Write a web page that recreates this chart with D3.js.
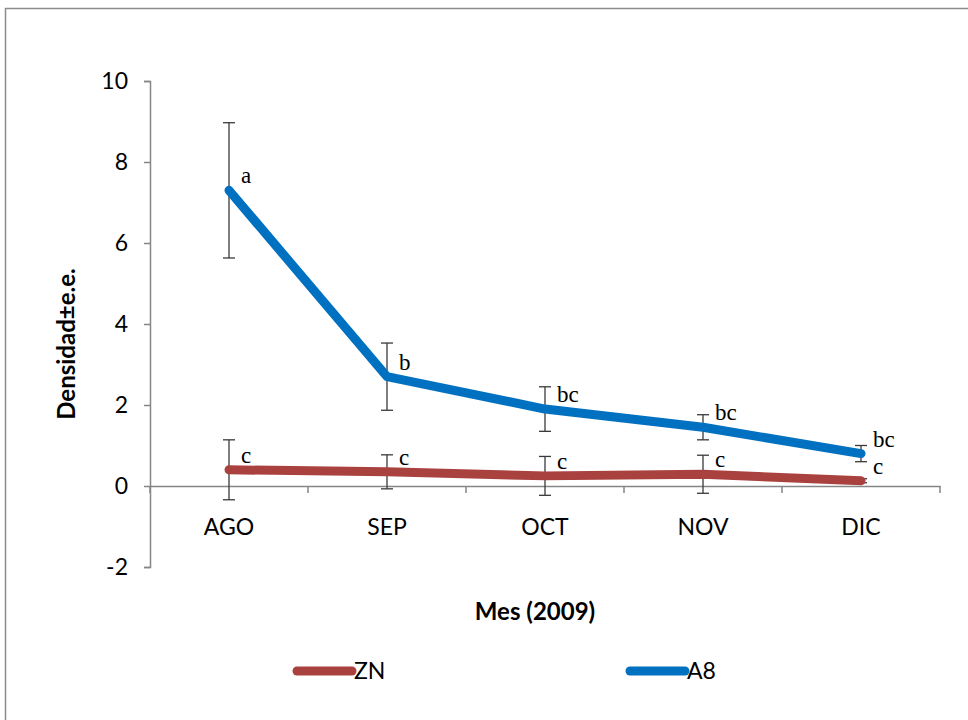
<!DOCTYPE html>
<html>
<head>
<meta charset="utf-8">
<script src="https://cdn.jsdelivr.net/npm/d3@7"></script>
<style>
  body { margin: 0; background: #fff; }
  svg { display: block; }
  .tick text { font-family: Lato, "Open Sans", sans-serif; }
</style>
</head>
<body>
<script>
// months and series
var months = ["AGO", "SEP", "OCT", "NOV", "DIC"];
var seriesNames = ["ZN", "A8"];
var znValues = [0.40, 0.35, 0.25, 0.29, 0.13];
var znErrors = [0.74, 0.42, 0.48, 0.47, 0.05];
var znLetters = ["c", "c", "c", "c", "c"];
var a8Values = [7.30, 2.70, 1.90, 1.45, 0.80];
var a8Errors = [1.67, 0.83, 0.55, 0.31, 0.20];
var a8Letters = ["a", "b", "bc", "bc", "bc"];
var yTicks = [-2, 0, 2, 4, 6, 8, 10];

var width = 968,
    height = 720;

var colors = {ZN: "#A9423F", A8: "#0070C0"};

var svg = d3.select("body").append("svg")
  .attr("width", width)
  .attr("height", height);

// chart frame
svg.append("rect")
  .attr("x", 5.5)
  .attr("y", 8.5)
  .attr("width", 980)
  .attr("height", 730)
  .attr("fill", "none")
  .attr("stroke", "#8c8c8c")
  .attr("stroke-width", 1.5);

var x = d3.scaleBand()
  .domain(months)
  .range([150, 940])
  .padding(0);

var y = d3.scaleLinear()
  .domain([-2, 10])
  .range([567, 81]);

// y axis
var yAxis = svg.append("g")
  .attr("transform", "translate(150,0)")
  .call(d3.axisLeft(y).tickValues(yTicks).tickSize(6).tickPadding(16).tickFormat(function(d) { return String(d); }));
yAxis.select(".domain").attr("stroke", "#868686").attr("stroke-width", 1.5);
yAxis.selectAll(".tick line").attr("stroke", "#868686").attr("stroke-width", 1.5);
yAxis.selectAll(".tick text").attr("font-size", 23).attr("fill", "#000");

// x axis at zero, ticks on category boundaries
var xAxis = svg.append("g")
  .attr("transform", "translate(0," + y(0) + ")")
  .call(d3.axisBottom(x).tickSize(0).tickPadding(33));
xAxis.select(".domain").attr("stroke", "#868686").attr("stroke-width", 1.5);
xAxis.selectAll(".tick text").attr("font-size", 23).attr("fill", "#000");

var bounds = months.map(function(m) { return x(m); }).concat([x.range()[1]]);
xAxis.selectAll(".bound")
  .data(bounds)
  .enter()
.append("line")
  .attr("class", "bound")
  .attr("x1", function(d) { return d; })
  .attr("x2", function(d) { return d; })
  .attr("y1", 0)
  .attr("y2", 7)
  .attr("stroke", "#868686")
  .attr("stroke-width", 1.5);

// axis titles
svg.append("text")
  .attr("transform", "translate(75,344) rotate(-90)")
  .attr("text-anchor", "middle")
  .attr("font-family", "Lato, 'Open Sans', sans-serif")
  .attr("font-weight", "bold")
  .attr("font-size", 24)
  .text("Densidad±e.e.");

svg.append("text")
  .attr("x", 535)
  .attr("y", 620)
  .attr("text-anchor", "middle")
  .attr("font-family", "Lato, 'Open Sans', sans-serif")
  .attr("font-weight", "bold")
  .attr("font-size", 24)
  .text("Mes (2009)");

var series = [
  {name: "ZN", values: znValues, errors: znErrors, letters: znLetters},
  {name: "A8", values: a8Values, errors: a8Errors, letters: a8Letters}
];

var cx = function(i) { return x(months[i]) + x.bandwidth() / 2; };

var line = d3.line()
  .x(function(d, i) { return cx(i); })
  .y(function(d) { return y(d); });

series.forEach(function(s) {
  var g = svg.append("g");

  // error bars
  var eb = g.selectAll(".err")
    .data(s.values)
    .enter()
  .append("g")
    .attr("class", "err")
    .attr("stroke", "#3a3a3a")
    .attr("stroke-width", 1.3);
  eb.append("line")
    .attr("x1", function(d, i) { return cx(i); })
    .attr("x2", function(d, i) { return cx(i); })
    .attr("y1", function(d, i) { return y(d + s.errors[i]); })
    .attr("y2", function(d, i) { return y(d - s.errors[i]); });
  eb.append("line")
    .attr("x1", function(d, i) { return cx(i) - 6; })
    .attr("x2", function(d, i) { return cx(i) + 6; })
    .attr("y1", function(d, i) { return y(d + s.errors[i]); })
    .attr("y2", function(d, i) { return y(d + s.errors[i]); });
  eb.append("line")
    .attr("x1", function(d, i) { return cx(i) - 6; })
    .attr("x2", function(d, i) { return cx(i) + 6; })
    .attr("y1", function(d, i) { return y(d - s.errors[i]); })
    .attr("y2", function(d, i) { return y(d - s.errors[i]); });

  g.append("path")
    .datum(s.values)
    .attr("d", line)
    .attr("fill", "none")
    .attr("stroke", colors[s.name])
    .attr("stroke-width", 9)
    .attr("stroke-linecap", "round")
    .attr("stroke-linejoin", "round");
});

// significance letters
series.forEach(function(s) {
  svg.append("g").selectAll("text")
    .data(s.values)
    .enter()
  .append("text")
    .attr("x", function(d, i) { return cx(i) + 12; })
    .attr("y", function(d) { return y(d) - 7; })
    .attr("font-family", "'Liberation Serif', 'Times New Roman', serif")
    .attr("font-size", 23)
    .text(function(d, i) { return s.letters[i]; });
});

// legend
var legendX = {ZN: 297, A8: 630};
seriesNames.forEach(function(n) {
  var lg = svg.append("g").attr("transform", "translate(" + legendX[n] + ",671)");
  lg.append("line")
    .attr("x1", 0).attr("x2", 55)
    .attr("stroke", colors[n])
    .attr("stroke-width", 9)
    .attr("stroke-linecap", "round");
  lg.append("text")
    .attr("x", 57)
    .attr("dy", "0.35em")
    .attr("font-family", "Lato, 'Open Sans', sans-serif")
    .attr("font-size", 23)
    .text(n);
});
</script>
</body>
</html>
